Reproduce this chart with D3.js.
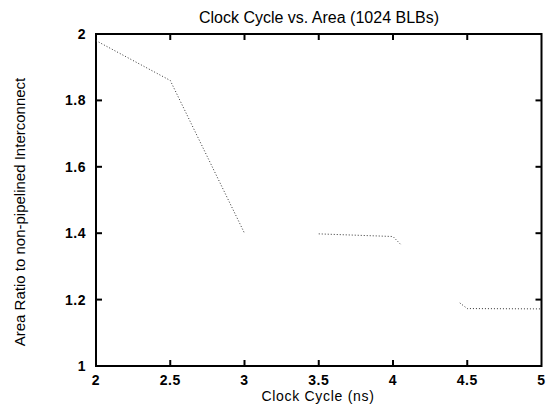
<!DOCTYPE html>
<html>
<head>
<meta charset="utf-8">
<script src="https://cdn.jsdelivr.net/npm/d3@7"></script>
<style>
  body { margin: 0; background: #fff; }
  text { font-family: "Liberation Sans", Arial, sans-serif; fill: #000; }
</style>
</head>
<body>
<svg id="chart" width="547" height="405"></svg>
<script>
// clock cycle (ns) vs area ratio, gaps where the curve is broken
const clockCycle = [2.0, 2.5, 3.0, null, 3.5, 4.0, 4.05, null, 4.45, 4.5, 5.0];
const areaRatio  = [1.98, 1.86, 1.40, null, 1.398, 1.39, 1.367, null, 1.19, 1.173, 1.172];
const xTicks = [2, 2.5, 3, 3.5, 4, 4.5, 5];
const yTicks = [1, 1.2, 1.4, 1.6, 1.8, 2];

const W = 547, H = 405;
const m = {left: 96, right: 5.5, top: 34, bottom: 39};

const svg = d3.select("#chart");

const x = d3.scaleLinear().domain([2, 5]).range([m.left, W - m.right]);
const y = d3.scaleLinear().domain([1, 2]).range([H - m.bottom, m.top]);

const pts = clockCycle.map((c, i) => ({x: c, y: areaRatio[i]}));

// ticks, inward on all four sides (gnuplot style)
const tl = 6;
const g = svg.append("g").attr("stroke", "#000").attr("stroke-width", 2);
xTicks.slice(1, -1).forEach(t => {
    g.append("line").attr("x1", x(t)).attr("x2", x(t))
        .attr("y1", y(1)).attr("y2", y(1) - tl);
    g.append("line").attr("x1", x(t)).attr("x2", x(t))
        .attr("y1", y(2)).attr("y2", y(2) + tl);
});
yTicks.slice(1, -1).forEach(t => {
    g.append("line").attr("x1", x(2)).attr("x2", x(2) + tl)
        .attr("y1", y(t)).attr("y2", y(t));
    g.append("line").attr("x1", x(5)).attr("x2", x(5) - tl)
        .attr("y1", y(t)).attr("y2", y(t));
});

// frame
svg.append("rect")
    .attr("x", x(2)).attr("y", y(2))
    .attr("width", x(5) - x(2)).attr("height", y(1) - y(2))
    .attr("fill", "none").attr("stroke", "#000").attr("stroke-width", 2);

// tick labels
svg.append("g").selectAll("text").data(xTicks).join("text")
    .attr("x", d => x(d)).attr("y", y(1) + 19)
    .attr("text-anchor", "middle")
    .attr("font-size", 14).attr("font-weight", "bold")
    .attr("letter-spacing", 0.5)
    .text(d => d);

svg.append("g").selectAll("text").data(yTicks).join("text")
    .attr("x", x(2) - 10).attr("y", d => y(d) + 5)
    .attr("text-anchor", "end")
    .attr("font-size", 14).attr("font-weight", "bold")
    .attr("letter-spacing", 0.5)
    .text(d => d);

// the curve
const line = d3.line()
    .defined(d => d.x !== null)
    .x(d => x(d.x))
    .y(d => y(d.y));

svg.append("path")
    .datum(pts)
    .attr("d", line)
    .attr("fill", "none")
    .attr("stroke", "#333")
    .attr("stroke-width", 1)
    .attr("stroke-dasharray", "1,2");

// titles
svg.append("text")
    .attr("x", 319).attr("y", 23)
    .attr("text-anchor", "middle").attr("font-size", 16)
    .text("Clock Cycle vs. Area (1024 BLBs)");

svg.append("text")
    .attr("x", 318).attr("y", 401)
    .attr("text-anchor", "middle").attr("font-size", 14)
    .attr("letter-spacing", 0.7)
    .text("Clock Cycle (ns)");

svg.append("text")
    .attr("transform", "translate(25,212) rotate(-90)")
    .attr("text-anchor", "middle").attr("font-size", 15)
    .text("Area Ratio to non-pipelined Interconnect");
</script>
</body>
</html>
